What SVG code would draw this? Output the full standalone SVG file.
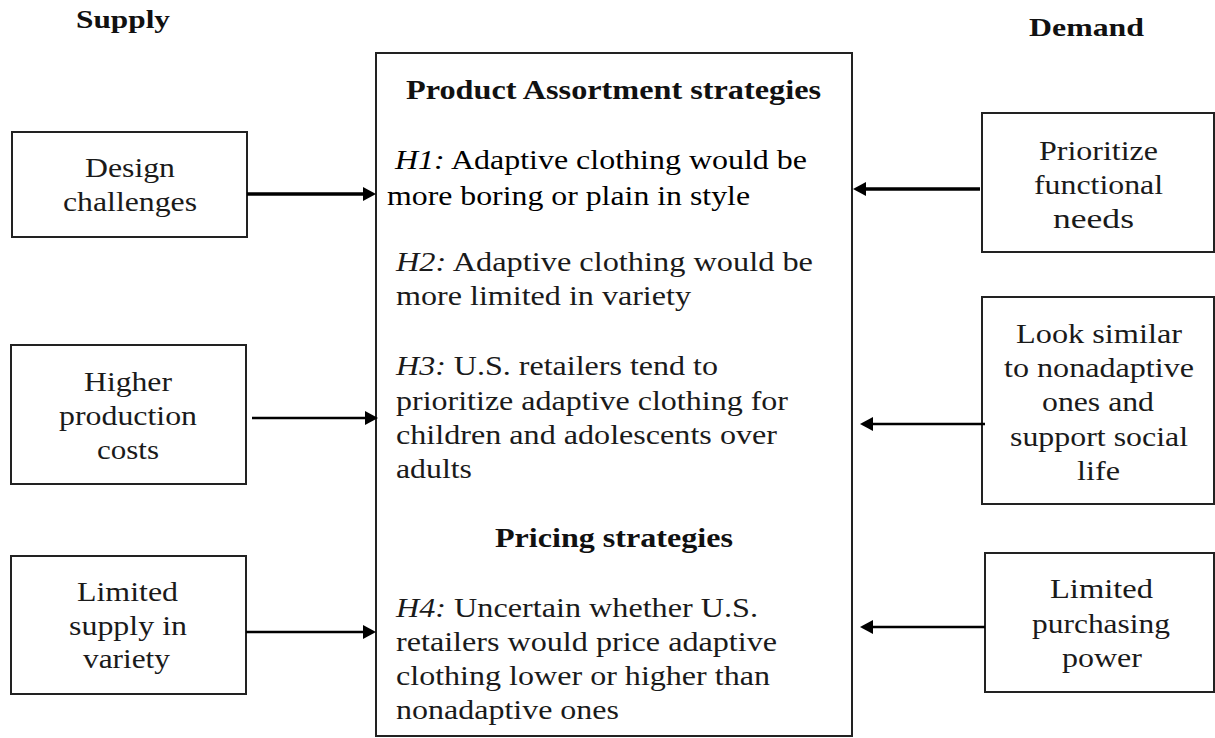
<svg xmlns="http://www.w3.org/2000/svg" width="1215" height="738" viewBox="0 0 1215 738">
<style>
  .box{fill:#fff;stroke:#222;stroke-width:2}
  .t{font-family:"Liberation Serif","Times New Roman",serif;font-size:26.5px;fill:#1a1a1a}
  .h{font-family:"Liberation Serif","Times New Roman",serif;font-weight:bold;font-size:28px;fill:#111}
  .lab{font-family:"Liberation Serif","Times New Roman",serif;font-weight:bold;font-size:25px;fill:#111}
  .i{font-style:italic}
  .thick{stroke:#000;stroke-width:3.5;fill:none}
  .thin{stroke:#000;stroke-width:2.5;fill:none}
</style>
<defs>
  <marker id="ah" markerUnits="userSpaceOnUse" markerWidth="14" markerHeight="14" refX="3" refY="7" orient="auto">
    <path d="M0,0 L13,7 L0,14 z" fill="#000"/>
  </marker>
</defs>
<rect width="1215" height="738" fill="#fff"/>

<text class="lab" x="76" y="28" textLength="94" lengthAdjust="spacingAndGlyphs">Supply</text>
<text class="lab" x="1029" y="36" textLength="115" lengthAdjust="spacingAndGlyphs">Demand</text>

<g id="main">
  <rect class="box" x="376" y="53" width="476" height="683"/>
  <text class="h" x="406" y="99" textLength="415" lengthAdjust="spacingAndGlyphs">Product Assortment strategies</text>
  <text class="t" style="fill:#000;font-size:27.5px" x="395" y="169" textLength="412" lengthAdjust="spacingAndGlyphs"><tspan class="i">H1:</tspan> Adaptive clothing would be</text>
  <text class="t" style="fill:#000;font-size:27.5px" x="387" y="205" textLength="363" lengthAdjust="spacingAndGlyphs">more boring or plain in style</text>
  <text class="t" x="396" y="271" textLength="417" lengthAdjust="spacingAndGlyphs"><tspan class="i">H2:</tspan> Adaptive clothing would be</text>
  <text class="t" x="396" y="305" textLength="295" lengthAdjust="spacingAndGlyphs">more limited in variety</text>
  <text class="t" x="396" y="375" textLength="322" lengthAdjust="spacingAndGlyphs"><tspan class="i">H3:</tspan> U.S. retailers tend to</text>
  <text class="t" x="396" y="410" textLength="392" lengthAdjust="spacingAndGlyphs">prioritize adaptive clothing for</text>
  <text class="t" x="396" y="444" textLength="381" lengthAdjust="spacingAndGlyphs">children and adolescents over</text>
  <text class="t" x="396" y="478" textLength="76" lengthAdjust="spacingAndGlyphs">adults</text>
  <text class="h" x="495" y="547" textLength="238" lengthAdjust="spacingAndGlyphs">Pricing strategies</text>
  <text class="t" x="396" y="617" textLength="362" lengthAdjust="spacingAndGlyphs"><tspan class="i">H4:</tspan> Uncertain whether U.S.</text>
  <text class="t" x="396" y="651" textLength="381" lengthAdjust="spacingAndGlyphs">retailers would price adaptive</text>
  <text class="t" x="396" y="685" textLength="374" lengthAdjust="spacingAndGlyphs">clothing lower or higher than</text>
  <text class="t" x="396" y="719" textLength="223" lengthAdjust="spacingAndGlyphs">nonadaptive ones</text>
</g>

<g id="design">
  <rect class="box" x="12" y="132" width="235" height="105"/>
  <text class="t" x="85" y="177" textLength="90" lengthAdjust="spacingAndGlyphs">Design</text>
  <text class="t" x="63" y="211" textLength="134" lengthAdjust="spacingAndGlyphs">challenges</text>
</g>
<g id="costs">
  <rect class="box" x="11" y="345" width="235" height="139"/>
  <text class="t" x="84" y="391" textLength="88" lengthAdjust="spacingAndGlyphs">Higher</text>
  <text class="t" x="59" y="425" textLength="138" lengthAdjust="spacingAndGlyphs">production</text>
  <text class="t" x="97" y="459" textLength="62" lengthAdjust="spacingAndGlyphs">costs</text>
</g>
<g id="supply">
  <rect class="box" x="11" y="556" width="235" height="138"/>
  <text class="t" x="77" y="601" textLength="101" lengthAdjust="spacingAndGlyphs">Limited</text>
  <text class="t" x="69" y="635" textLength="118" lengthAdjust="spacingAndGlyphs">supply in</text>
  <text class="t" x="83" y="668" textLength="87" lengthAdjust="spacingAndGlyphs">variety</text>
</g>

<g id="functional">
  <rect class="box" x="982" y="113" width="232" height="139"/>
  <text class="t" x="1039" y="160" textLength="119" lengthAdjust="spacingAndGlyphs">Prioritize</text>
  <text class="t" x="1034" y="194" textLength="129" lengthAdjust="spacingAndGlyphs">functional</text>
  <text class="t" x="1053" y="228" textLength="81" lengthAdjust="spacingAndGlyphs">needs</text>
</g>
<g id="social">
  <rect class="box" x="982" y="297" width="232" height="207"/>
  <text class="t" x="1016" y="343" textLength="166" lengthAdjust="spacingAndGlyphs">Look similar</text>
  <text class="t" x="1004" y="377" textLength="190" lengthAdjust="spacingAndGlyphs">to nonadaptive</text>
  <text class="t" x="1042" y="411" textLength="112" lengthAdjust="spacingAndGlyphs">ones and</text>
  <text class="t" x="1010" y="446" textLength="178" lengthAdjust="spacingAndGlyphs">support social</text>
  <text class="t" x="1077" y="480" textLength="43" lengthAdjust="spacingAndGlyphs">life</text>
</g>
<g id="power">
  <rect class="box" x="985" y="553" width="229" height="139"/>
  <text class="t" x="1050" y="598" textLength="103" lengthAdjust="spacingAndGlyphs">Limited</text>
  <text class="t" x="1032" y="633" textLength="138" lengthAdjust="spacingAndGlyphs">purchasing</text>
  <text class="t" x="1062" y="667" textLength="80" lengthAdjust="spacingAndGlyphs">power</text>
</g>

<g id="connectors">
  <line class="thick" x1="247" y1="194" x2="366" y2="194" marker-end="url(#ah)"/>
  <line class="thin" x1="252" y1="418" x2="368" y2="418" marker-end="url(#ah)"/>
  <line class="thin" x1="246" y1="632" x2="366" y2="632" marker-end="url(#ah)"/>
  <line class="thick" x1="980" y1="189" x2="863" y2="189" marker-end="url(#ah)"/>
  <line class="thin" x1="985" y1="424" x2="870" y2="424" marker-end="url(#ah)"/>
  <line class="thin" x1="985" y1="627" x2="870" y2="627" marker-end="url(#ah)"/>
</g>
</svg>
